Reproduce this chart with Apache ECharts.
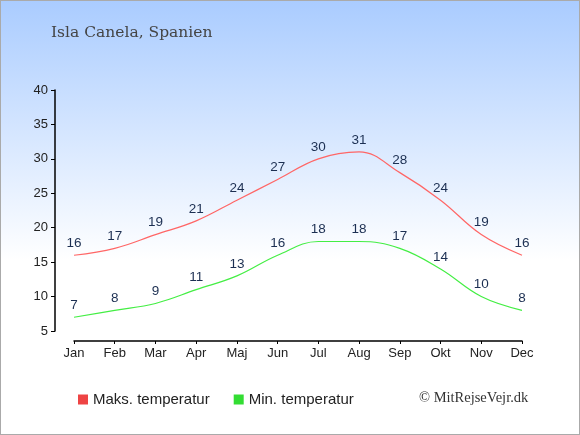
<!DOCTYPE html>
<html>
<head>
    <meta charset="utf-8">
    <title></title>
    <script src="https://cdn.jsdelivr.net/npm/echarts@6/dist/echarts.min.js"></script>
    <style>
        body{
            margin: 0;
        }
        #chart{
            width: 578px;
            height: 433px;
            border: 1px solid #aaaaaa;
            background: linear-gradient(to bottom, #aaccff 0%, #ffffff 60%, #ffffff 100%);
        }
    </style>
</head>
<body>
<div id="chart"></div>
<script>
    var months = ['Jan','Feb','Mar','Apr','Maj','Jun','Jul','Aug','Sep','Okt','Nov','Dec'];
    var maxTemp = [16,17,19,21,24,27,30,31,28,24,19,16];
    var minTemp = [7,8,9,11,13,16,18,18,17,14,10,8];

    var labelStyle = {
        show: true,
        position: 'top',
        distance: 5,
        color: '#1c2f52',
        fontSize: 13.5,
        fontFamily: 'Liberation Sans, Arial, sans-serif'
    };

    var chart = echarts.init(document.getElementById('chart'));
    chart.setOption({
        animation: false,
        textStyle: { fontFamily: 'Liberation Sans, Arial, sans-serif' },
        title: {
            text: 'Isla Canela, Spanien',
            left: 45,
            top: 19,
            textStyle: {
                fontFamily: 'DejaVu Serif, serif',
                fontWeight: 'normal',
                fontSize: 15.5,
                color: '#444444'
            }
        },
        grid: { left: 73, right: 57, top: 89, bottom: 103 },
        xAxis: {
            type: 'category',
            data: months,
            boundaryGap: false,
            offset: 10,
            axisLine: { lineStyle: { color: '#000', width: 1.5 } },
            axisTick: { length: 3, lineStyle: { color: '#000' } },
            axisLabel: { color: '#222', fontSize: 13, margin: 6 },
            splitLine: { show: false }
        },
        yAxis: {
            type: 'value',
            min: 5,
            max: 40,
            interval: 5,
            offset: 19,
            axisLine: { show: true, lineStyle: { color: '#000', width: 1.5 } },
            axisTick: { show: true, length: 4, lineStyle: { color: '#000' } },
            axisLabel: { color: '#222', fontSize: 13, margin: 7 },
            splitLine: { show: false }
        },
        legend: {
            top: 386,
            left: 72,
            itemWidth: 10,
            itemHeight: 10,
            itemGap: 24,
            icon: 'rect',
            textStyle: { fontSize: 15, color: '#222' },
            data: ['Maks. temperatur', 'Min. temperatur']
        },
        graphic: [{
            type: 'text',
            left: 418,
            top: 390,
            style: {
                text: '\u00a9 MitRejseVejr.dk',
                font: '14.5px "Liberation Serif", serif',
                fill: '#333'
            }
        }],
        series: [{
            name: 'Maks. temperatur',
            type: 'line',
            smooth: 0.4,
            data: maxTemp,
            symbol: 'circle',
            symbolSize: 0,
            itemStyle: { color: '#ee4444' },
            lineStyle: { color: '#ff6666', width: 1.2 },
            label: labelStyle
        }, {
            name: 'Min. temperatur',
            type: 'line',
            smooth: 0.4,
            data: minTemp,
            symbol: 'circle',
            symbolSize: 0,
            itemStyle: { color: '#33dd33' },
            lineStyle: { color: '#44ee44', width: 1.2 },
            label: labelStyle
        }]
    });
</script>
</body>
</html>
